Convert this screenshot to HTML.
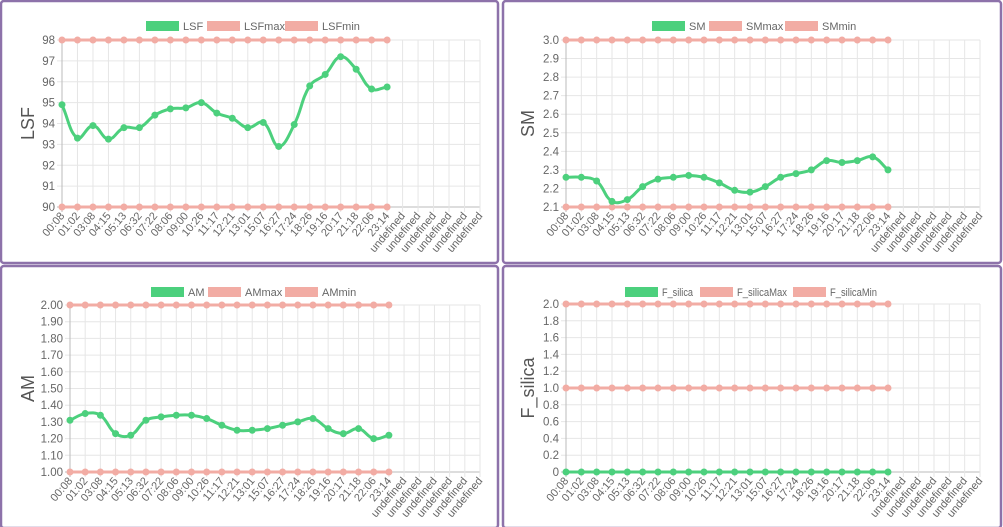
<!DOCTYPE html>
<html><head><meta charset="utf-8"><style>
body{margin:0;background:#fff;width:1003px;height:527px;overflow:hidden;font-family:"Liberation Sans",sans-serif}
svg{position:absolute;left:0;top:0}
</style></head><body>
<svg id="s" width="1003" height="527" xmlns="http://www.w3.org/2000/svg"></svg>
<script>
const S=document.getElementById('s');let h='';
const labels=["00:08","01:02","03:08","04:15","05:13","06:32","07:22","08:06","09:00","10:26","11:17","12:21","13:01","15:07","16:27","17:24","18:26","19:16","20:17","21:18","22:06","23:14"];
for(let i=0;i<6;i++)labels.push("undefined");
const G='#4cd07d',R='#f2aca4';
function spline(pts){let d='M'+pts[0][0]+','+pts[0][1];const t=0.4;
 const cp=pts.map((p,i)=>{const a=pts[i-1]||p,b=pts[i+1]||p;
  const d01=Math.hypot(p[0]-a[0],p[1]-a[1]),d12=Math.hypot(b[0]-p[0],b[1]-p[1]);
  let fa=d01/(d01+d12||1),fb=d12/(d01+d12||1);fa*=t;fb*=t;
  return [[p[0]-fa*(b[0]-a[0]),p[1]-fa*(b[1]-a[1])],[p[0]+fb*(b[0]-a[0]),p[1]+fb*(b[1]-a[1])]];});
 for(let i=1;i<pts.length;i++)d+=` C${cp[i-1][1][0]},${cp[i-1][1][1]} ${cp[i][0][0]},${cp[i][0][1]} ${pts[i][0]},${pts[i][1]}`;return d;}
function chart(o){
 const {L,Rt,T,B,min,max,step,dec,title,names,data,mx,mn,px,ly,lx,lw}=o;
 const n=labels.length,sp=(Rt-L)/(n-1);
 const Y=v=>B-(v-min)/(max-min)*(B-T);
 const nt=Math.round((max-min)/step);
 for(let k=0;k<=nt;k++){const v=min+k*step,y=Y(v);
  h+=`<line x1="${L-5}" x2="${Rt}" y1="${y}" y2="${y}" stroke="${k==0?'#bbb':'#e6e6e6'}" stroke-width="1"/>`;
  h+=`<text x="${L-7}" y="${y+4}" font-size="11.5" fill="#666" text-anchor="end">${(v==0&&dec==1&&o.zero)?'0':v.toFixed(dec)}</text>`;}
 for(let i=0;i<n;i++){const x=L+i*sp;
  h+=`<line x1="${x}" x2="${x}" y1="${T}" y2="${B+5}" stroke="${i==0?'#bbb':'#e6e6e6'}"/>`;
  h+=`<text transform="translate(${x+3},${B+9}) rotate(-50)" font-size="11" fill="#666" text-anchor="end">${labels[i]}</text>`;}
 h+=`<text transform="translate(${px},${(T+B)/2}) rotate(-90)" font-size="18" fill="#555" text-anchor="middle">${title}</text>`;
 const ser=(vals,c)=>{const pts=vals.map((v,i)=>[L+i*sp,Y(v)]);
  h+=`<path d="${spline(pts)}" fill="none" stroke="${c}" stroke-width="3"/>`;
  pts.forEach(p=>h+=`<circle cx="${p[0]}" cy="${p[1]}" r="3" fill="${c}" stroke="${c}"/>`);};
 ser(Array(22).fill(mx),R);ser(Array(22).fill(mn),R);ser(data,G);
 names.forEach((s,i)=>{const x=lx[i];h+=`<rect x="${x}" y="${ly-5}" width="33" height="10" fill="${i?R:G}"/>`;
  const tl=lw?` textLength="${lw[i]}" lengthAdjust="spacingAndGlyphs"`:'';
  h+=`<text x="${x+37}" y="${ly+4}" font-size="11" fill="#666"${tl}>${s}</text>`;});
}
h+=`<rect x="1" y="1" width="497" height="262" rx="3" fill="none" stroke="#8d72aa" stroke-width="2.5"/>`;
h+=`<rect x="503" y="1" width="498" height="262" rx="3" fill="none" stroke="#8d72aa" stroke-width="2.5"/>`;
h+=`<rect x="1" y="266" width="497" height="262" rx="3" fill="none" stroke="#8d72aa" stroke-width="2.5"/>`;
h+=`<rect x="503" y="266" width="498" height="262" rx="3" fill="none" stroke="#8d72aa" stroke-width="2.5"/>`;
chart({L:62,Rt:480,T:40,B:207,min:90,max:98,step:1,dec:0,title:"LSF",names:["LSF","LSFmax","LSFmin"],mx:98,mn:90,px:34,ly:26,lx:[146,207,285],
 data:[94.9,93.3,93.9,93.25,93.8,93.8,94.4,94.7,94.75,95.0,94.5,94.25,93.8,94.05,92.9,93.95,95.8,96.35,97.2,96.6,95.65,95.75]});
chart({L:566,Rt:980,T:40,B:207,min:2.1,max:3.0,step:0.1,dec:1,title:"SM",names:["SM","SMmax","SMmin"],mx:3.0,mn:2.1,px:534,ly:26,lx:[652,709,785],
 data:[2.26,2.26,2.24,2.13,2.14,2.21,2.25,2.26,2.27,2.26,2.23,2.19,2.18,2.21,2.26,2.28,2.30,2.35,2.34,2.35,2.37,2.30]});
chart({L:70,Rt:480,T:305,B:472,min:1.0,max:2.0,step:0.1,dec:2,title:"AM",names:["AM","AMmax","AMmin"],mx:2.0,mn:1.0,px:34,ly:292,lx:[151,208,285],
 data:[1.31,1.35,1.34,1.23,1.22,1.31,1.33,1.34,1.34,1.32,1.28,1.25,1.25,1.26,1.28,1.30,1.32,1.26,1.23,1.26,1.20,1.22]});
chart({L:566,Rt:980,T:304,B:472,min:0,max:2.0,step:0.2,dec:1,zero:true,title:"F_silica",names:["F_silica","F_silicaMax","F_silicaMin"],mx:2.0,mn:1.0,px:534,ly:292,lx:[625,700,793],lw:[31,50,47],
 data:Array(22).fill(0)});
S.innerHTML=h;
</script>
</body></html>
